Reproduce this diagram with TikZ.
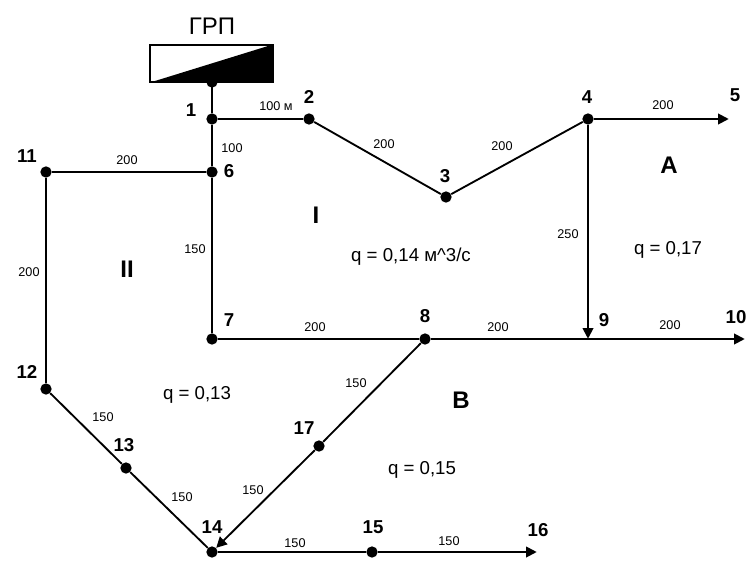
\documentclass[tikz,border=0pt]{standalone}
\usepackage{fontspec}
\setmainfont{Liberation Sans}
\usetikzlibrary{arrows.meta}

\begin{document}
\begin{tikzpicture}[
    x=0.75pt, y=-0.75pt,
    junction/.style={circle, fill=black, inner sep=0pt, minimum size=8.5pt},
    endpoint/.style={inner sep=0pt, minimum size=0pt},
    number/.style={font=\bfseries\fontsize{14}{16}\selectfont, inner sep=0pt},
    length/.style={font=\fontsize{9.5}{11}\selectfont, inner sep=0pt},
    demand/.style={font=\fontsize{14}{16}\selectfont, inner sep=0pt},
    region/.style={font=\bfseries\fontsize{18}{20}\selectfont, inner sep=0pt},
    pipe/.style={line width=1.4pt},
    flow/.style={line width=1.4pt, -{Triangle[length=8pt,width=8pt]}}
]
\useasboundingbox (0,0) rectangle (752,574);

% узлы
\node[junction] (top) at (212,82) {};
\node[junction] (n1) at (212,119) {};
\node[junction] (n2) at (309,119) {};
\node[junction] (n3) at (446,197) {};
\node[junction] (n4) at (588,119) {};
\node[endpoint] (n5) at (729,119) {};
\node[junction] (n6) at (212,172) {};
\node[junction] (n7) at (212,339) {};
\node[junction] (n8) at (425,339) {};
\node[endpoint] (n9) at (588,339) {};
\node[endpoint] (n10) at (745,339) {};
\node[junction] (n11) at (46,172) {};
\node[junction] (n12) at (46,389) {};
\node[junction] (n13) at (126,468) {};
\node[junction] (n14) at (212,552) {};
\node[junction] (n15) at (372,552) {};
\node[endpoint] (n16) at (537,552) {};
\node[junction] (n17) at (319,446) {};

% ГРП
\node[font=\fontsize{18}{20}\selectfont, inner sep=0pt] (title) at (212,26) {ГРП};
\node[draw, line width=1.4pt, fill=white, minimum width=92pt, minimum height=27.5pt, inner sep=0pt] (grp) at (211.5,63.5) {};
\fill (grp.south west) -- (grp.north east) -- (grp.south east) -- cycle;

% участки
\draw[pipe] (grp.south -| top) -- (n1);
\draw[pipe] (n1) -- (n2);
\draw[pipe] (n2) -- (n3);
\draw[pipe] (n3) -- (n4);
\draw[flow] (n4) -- (n5);
\draw[pipe] (n1) -- (n6);
\draw[pipe] (n6) -- (n7);
\draw[pipe] (n6) -- (n11);
\draw[pipe] (n11) -- (n12);
\draw[pipe] (n12) -- (n13);
\draw[pipe] (n13) -- (n14);
\draw[pipe] (n7) -- (n8);
\draw[pipe] (n8) -- (n9);
\draw[flow] (n9) -- (n10);
\draw[flow] (n4) -- (n9);
\draw[pipe] (n8) -- (n17);
\draw[flow] (n17) -- (n14);
\draw[pipe] (n14) -- (n15);
\draw[flow] (n15) -- (n16);

% номера узлов
\node[number] (lab1) at (191,110) {1};
\node[number] (lab2) at (309,97) {2};
\node[number] (lab3) at (445,176) {3};
\node[number] (lab4) at (587,97) {4};
\node[number] (lab5) at (735,95) {5};
\node[number] (lab6) at (229,171) {6};
\node[number] (lab7) at (229,320) {7};
\node[number] (lab8) at (425,316) {8};
\node[number] (lab9) at (604,320) {9};
\node[number] (lab10) at (736,317) {10};
\node[number] (lab11) at (27,156) {11};
\node[number] (lab12) at (27,372) {12};
\node[number] (lab13) at (124,445) {13};
\node[number] (lab14) at (212,527) {14};
\node[number] (lab15) at (373,527) {15};
\node[number] (lab16) at (538,530) {16};
\node[number] (lab17) at (304,428) {17};

% длины
\node[length] (len12) at (276,106) {100 м};
\node[length] (len16) at (232,148) {100};
\node[length] (len23) at (384,144) {200};
\node[length] (len34) at (502,146) {200};
\node[length] (len45) at (663,105) {200};
\node[length] (len611) at (127,160) {200};
\node[length] (len67) at (195,249) {150};
\node[length] (len49) at (568,234) {250};
\node[length] (len1112) at (29,272) {200};
\node[length] (len78) at (315,327) {200};
\node[length] (len89) at (498,327) {200};
\node[length] (len910) at (670,325) {200};
\node[length] (len817) at (356,383) {150};
\node[length] (len1213) at (103,417) {150};
\node[length] (len1314) at (182,497) {150};
\node[length] (len1714) at (253,490) {150};
\node[length] (len1415) at (295,543) {150};
\node[length] (len1516) at (449,541) {150};

% кольца и расходы
\node[region] (ringI) at (316,215) {I};
\node[region] (ringII) at (127,269) {II};
\node[region] (ringA) at (669,165) {A};
\node[region] (ringB) at (461,400) {B};
\node[demand] (qI) at (411,257) {q = 0,14 м\^{}3/с};
\node[demand] (qA) at (668,250) {q = 0,17};
\node[demand] (qII) at (197,395) {q = 0,13};
\node[demand] (qB) at (422,470) {q = 0,15};

\end{tikzpicture}
\end{document}
